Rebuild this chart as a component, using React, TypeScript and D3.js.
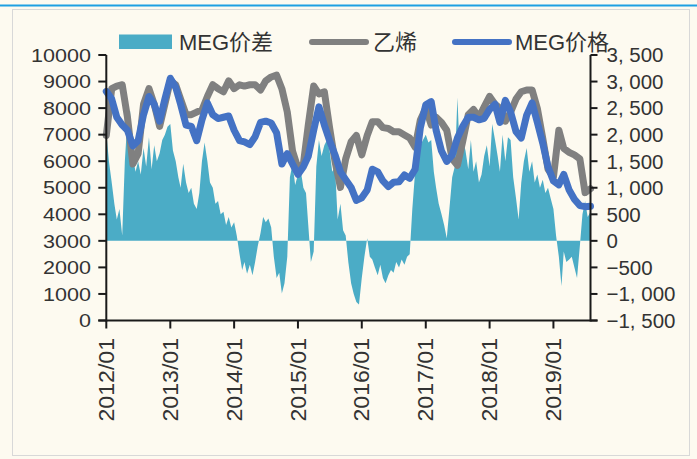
import React, { useEffect, useRef } from 'react';
import * as d3 from 'd3';

// Monthly values (first of month, starting 2012/01) — left axis (元/吨)
const megPrice = [
  8630, 8340, 7655, 7360, 7166, 6578, 6774, 7753, 8438, 8145, 7508, 8340,
  9124, 8781, 8145, 7360, 7313, 6774, 7557, 8194, 7753, 7606, 7655, 7704,
  7166, 6774, 6725, 6627, 6921, 7459, 7508, 7440, 7068, 5893, 6285, 5893,
  5501, 5795, 6187, 7166, 8047, 7360, 6774, 6236, 5599, 5306, 5012, 4522,
  4620, 4914, 5697, 5599, 5257, 5041, 5208, 5227, 5482, 5355, 5697, 7264,
  8125, 8243, 7166, 6383, 5991, 6236, 6872, 7313, 7655, 7655, 7557, 7616,
  7949, 8145, 7459, 8292, 7851, 7117, 6872, 7734, 8194, 7459, 6676, 5795,
  5257, 5110, 5501, 4914, 4571, 4327, 4287, 4307,
];
const ethylene = [
  6970, 8732, 8830, 8879, 7655, 5893, 6285, 8145, 8732, 8145, 7313, 8145,
  9026, 8879, 8340, 7753, 7753, 7851, 7929, 8438, 8879, 8732, 8615, 9026,
  8732, 8879, 8830, 8879, 8879, 8683, 9026, 9173, 9241, 8732, 7851, 6383,
  5746, 5893, 7360, 8830, 8536, 8615, 7264, 5991, 5012, 6089, 6735, 6970,
  6236, 6970, 7489, 7489, 7264, 7234, 7107, 7107, 6990, 6872, 6529, 7557,
  8000, 7362, 7655, 7459, 7166, 6089, 5844, 6774, 7753, 7949, 7655, 8047,
  8438, 8145, 7998, 7508, 7851, 8340, 8615, 8683, 8683, 7988, 6862, 5697,
  5404, 7166, 6480, 6334, 6236, 6089, 4816, 4963,
];
// Semi-monthly values (1st and 16th of month) — right axis
const megSpread = [
  2050, 1500, 1100, 700, 400, 600, 100, 1500, 2300, 2450, 1600, 1300,
  1500, 1250, 1750, 1400, 1950, 1350, 1800, 1500, 1650, 1900, 2000, 2150,
  2200, 1700, 1500, 1200, 1000, 1450, 1100, 900, 1000, 700, 600, 900,
  1500, 1850, 1500, 1100, 1000, 700, 750, 500, 550, 300, 450, 250,
  350, 100, -250, -550, -400, -620, -450, -650, -400, -100, 150, 450,
  350, 420, 250, -300, -700, -600, -990, -800, -300, 1200, 1450, 1050,
  1250, 1350, 1000, 900, 300, -400, -200, 1400, 1900, 1600, 1800, 1900,
  1700, 1300, 1400, 400, 700, 200, 100, -400, -800, -1000, -1150, -1200,
  -700, -300, 50, -300, -350, -500, -650, -450, -700, -800, -650, -550,
  -600, -400, -500, -350, -450, -300, -250, 600, 1300, 1600, 1800, 1900,
  2000, 1850, 1900, 1300, 1000, 700, 500, 300, 50, 600, 1200, 1400,
  2700, 1500, 1900, 1700, 1350, 1900, 1300, 1500, 1100, 1250, 1600, 1800,
  1400, 2200, 1900, 1600, 1300, 2000, 1500, 1950, 1900, 1200, 800, 400,
  1100, 1500, 1750, 1300, 1500, 1100, 1250, 1000, 1150, 900, 1000, 800,
  600, 100, -300, -850, -200, -400, -350, -300, -500, -700, -100, 500,
  750, 450, 550,
];
const xTickLabels = ['2012/01', '2013/01', '2014/01', '2015/01', '2016/01', '2017/01', '2018/01', '2019/01'];
const leftTicks = [0, 1000, 2000, 3000, 4000, 5000, 6000, 7000, 8000, 9000, 10000];
const rightTicks = [-1500, -1000, -500, 0, 500, 1000, 1500, 2000, 2500, 3000, 3500];
const legendLabels = ['MEG价差', '乙烯', 'MEG价格'];

const C_SPREAD = '#4bacc6';
const C_ETH = '#808080';
const C_MEG = '#4472c4';
const BG = '#fdfaf0';
const TXT = '#333333';
const FONT = '"Liberation Sans", Arial, "Noto Sans CJK SC", sans-serif';

export default function App() {
  const ref = useRef<SVGSVGElement>(null);
  useEffect(() => {
    const svg = d3.select(ref.current);
    svg.selectAll('*').remove();
    const W = 697, H = 459;
    const L = 106.3, R = 590.5, T = 55, B = 320.5;

    svg.append('rect').attr('width', W).attr('height', H).attr('fill', BG);
    svg.append('line').attr('x1', 0).attr('x2', W).attr('y1', 5.5).attr('y2', 5.5)
      .attr('stroke', '#1ea0e2').attr('stroke-width', 2);
    svg.append('rect').attr('x', 12.5).attr('y', 9.5).attr('width', 677).attr('height', 446)
      .attr('fill', 'none').attr('stroke', '#d8d8d8').attr('stroke-width', 1);

    const x = d3.scaleTime().domain([new Date(2012, 0, 1), new Date(2019, 7, 1)]).range([L, R]);
    const yL = d3.scaleLinear().domain([0, 10000]).range([B, T]);
    const yR = d3.scaleLinear().domain([-1500, 3500]).range([B, T]);

    const monthDate = (i: number) => new Date(2012, i, 1);
    const halfDate = (i: number) => new Date(2012, Math.floor(i / 2), i % 2 ? 16 : 1);

    const area = d3.area<number>()
      .x((_, i) => x(halfDate(i)))
      .y0(yR(0))
      .y1((d) => yR(d));
    svg.append('path').datum(megSpread).attr('d', area).attr('fill', C_SPREAD);

    const line = d3.line<number>().x((_, i) => x(monthDate(i))).y((d) => yL(d));
    svg.append('path').datum(ethylene).attr('d', line).attr('fill', 'none')
      .attr('stroke', C_ETH).attr('stroke-width', 7).attr('stroke-linejoin', 'round').attr('stroke-linecap', 'round');
    svg.append('path').datum(megPrice).attr('d', line).attr('fill', 'none')
      .attr('stroke', C_MEG).attr('stroke-width', 7).attr('stroke-linejoin', 'round').attr('stroke-linecap', 'round');

    const axisC = '#1a1a1a';
    // Left axis
    const gl = svg.append('g');
    gl.append('line').attr('x1', L).attr('x2', L).attr('y1', T).attr('y2', B + 1).attr('stroke', axisC).attr('stroke-width', 2);
    leftTicks.forEach((v) => {
      const yy = yL(v);
      gl.append('line').attr('x1', L - 8).attr('x2', L).attr('y1', yy).attr('y2', yy).attr('stroke', axisC).attr('stroke-width', 2);
      gl.append('text').attr('transform', `translate(91,${yy}) scale(1.16,1)`)
        .attr('text-anchor', 'end').attr('dy', '0.36em')
        .attr('font-size', 18.6).attr('font-family', FONT).attr('fill', TXT).text(String(v));
    });
    // Right axis
    const gr = svg.append('g');
    gr.append('line').attr('x1', R).attr('x2', R).attr('y1', T).attr('y2', B + 1).attr('stroke', axisC).attr('stroke-width', 2);
    const fmt = (v: number) => (v < 0 ? '−' : '') + d3.format(',')(Math.abs(v)).replace(',', ', ');
    rightTicks.forEach((v) => {
      const yy = yR(v);
      gr.append('line').attr('x1', R).attr('x2', R + 7).attr('y1', yy).attr('y2', yy).attr('stroke', axisC).attr('stroke-width', 2);
      gr.append('text').attr('x', 606.5).attr('y', yy).attr('dy', '0.36em')
        .attr('font-size', 20.5).attr('font-family', FONT).attr('fill', TXT).text(fmt(v));
    });
    // Bottom axis
    const gb = svg.append('g');
    gb.append('line').attr('x1', L - 8).attr('x2', R + 7).attr('y1', B).attr('y2', B).attr('stroke', axisC).attr('stroke-width', 2);
    const parse = d3.timeParse('%Y/%m');
    xTickLabels.forEach((lab) => {
      const xx = x(parse(lab) as Date);
      gb.append('line').attr('x1', xx).attr('x2', xx).attr('y1', B).attr('y2', B + 8).attr('stroke', axisC).attr('stroke-width', 2);
      gb.append('text').attr('transform', `translate(${xx},338) rotate(-90) scale(1.05,1)`)
        .attr('text-anchor', 'end').attr('dy', '0.35em')
        .attr('font-size', 22).attr('font-family', FONT).attr('fill', TXT).text(lab);
    });

    // Legend
    const lg = svg.append('g').attr('font-family', FONT).attr('font-size', 22).attr('fill', TXT);
    lg.append('rect').attr('x', 119).attr('y', 34.5).attr('width', 53).attr('height', 14.5).attr('fill', C_SPREAD);
    lg.append('text').attr('x', 179).attr('y', 50).text(legendLabels[0]);
    lg.append('line').attr('x1', 312).attr('x2', 366).attr('y1', 42).attr('y2', 42)
      .attr('stroke', C_ETH).attr('stroke-width', 6).attr('stroke-linecap', 'round');
    lg.append('text').attr('x', 373).attr('y', 50).text(legendLabels[1]);
    lg.append('line').attr('x1', 455).attr('x2', 509).attr('y1', 42).attr('y2', 42)
      .attr('stroke', C_MEG).attr('stroke-width', 6).attr('stroke-linecap', 'round');
    lg.append('text').attr('x', 515).attr('y', 50).text(legendLabels[2]);
  }, []);
  return (
    <svg ref={ref} width={697} height={459}
      style={{ position: 'absolute', left: 0, top: 0, display: 'block' }} />
  );
}
